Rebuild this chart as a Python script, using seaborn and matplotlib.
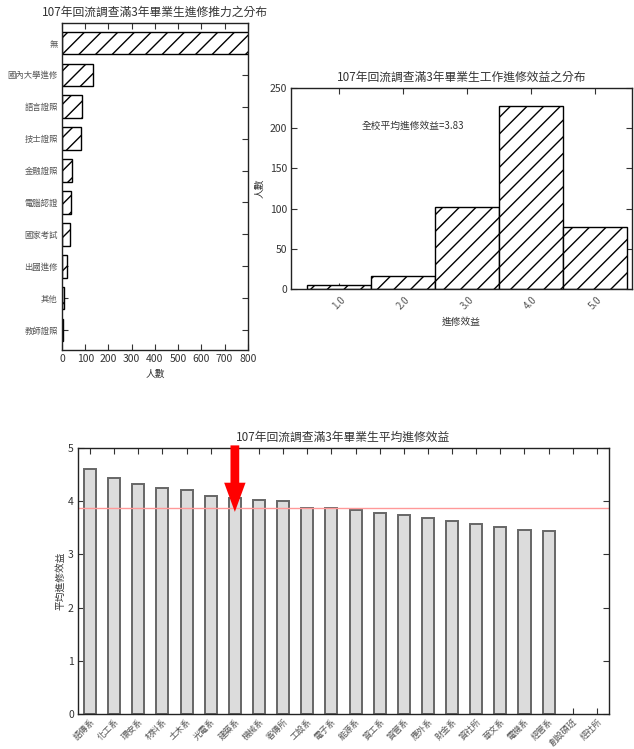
import numpy as np
import pandas as pd
import matplotlib
matplotlib.use("Agg")
import matplotlib.pyplot as plt
import seaborn as sns

# ---- data ----
push_cats = ["無", "國內大學進修", "語言證照", "技士證照", "金融證照",
             "電腦認證", "國家考試", "出國進修", "其他", "教師證照"]
push_vals = [810, 132, 86, 83, 43, 39, 36, 20, 10, 6]

benefit_cats = ["1.0", "2.0", "3.0", "4.0", "5.0"]
benefit_vals = [5, 16, 102, 227, 77]
school_mean_text = "全校平均進修效益=3.83"

dept_cats = ["語傳系", "化工系", "環安系", "材料系", "土木系", "光電系", "建築系",
             "機械系", "客傳所", "工設系", "電子系", "能源系", "資工系", "資管系",
             "應外系", "財金系", "資社所", "華文系", "電機系", "經管系",
             "創設碩班", "經社所"]
dept_vals = [4.60, 4.43, 4.32, 4.25, 4.22, 4.10, 4.06, 4.03, 4.00, 3.88,
             3.87, 3.84, 3.77, 3.74, 3.68, 3.62, 3.58, 3.52, 3.46, 3.44]
dept_mean = 3.87
highlight_dept = "建築系"

# ---- style ----
sns.set_theme(style="white")
plt.rcParams["font.family"] = ["Noto Sans CJK TC", "DejaVu Sans"]
plt.rcParams.update({
    "xtick.direction": "in", "ytick.direction": "in",
    "xtick.top": True, "ytick.right": True,
    "xtick.major.size": 4, "ytick.major.size": 4,
    "xtick.major.width": 0.8, "ytick.major.width": 0.8,
    "xtick.bottom": True, "ytick.left": True,
    "axes.edgecolor": "#222222", "axes.linewidth": 1.0,
    "text.color": "#333333", "axes.labelcolor": "#333333",
    "xtick.color": "#333333", "ytick.color": "#333333",
    "hatch.linewidth": 1.0,
})
TXT = "#333333"
LBL = "#555555"

fig = plt.figure(figsize=(6.34, 7.49), dpi=100)

# ---- top-left: horizontal bars ----
ax1 = fig.add_axes([0.0978, 0.5327, 0.293, 0.4366])
df1 = pd.DataFrame({"cat": push_cats, "val": push_vals})
sns.barplot(data=df1, x="val", y="cat", order=push_cats, orient="h", width=0.7,
            color="white", saturation=1, edgecolor="black", linewidth=1.0, ax=ax1)
for p in ax1.patches:
    p.set_hatch("//")
ax1.set_xlim(0, 800)
ax1.set_ylim(9.62, -0.62)
ax1.set_xticks(range(0, 801, 100))
ax1.tick_params(axis="x", labelsize=7.5, colors=TXT, pad=3)
ax1.tick_params(axis="y", labelsize=6, colors=TXT, labelcolor=LBL, pad=3)
ax1.set_xlabel("人數", fontsize=7, color=TXT, labelpad=3)
ax1.set_ylabel("")
ax1.set_title("107年回流調查滿3年畢業生進修推力之分布", fontsize=8.5, color=TXT, pad=5)

# ---- top-right: histogram-like bars ----
ax2 = fig.add_axes([0.459, 0.6142, 0.538, 0.2684])
df2 = pd.DataFrame({"cat": benefit_cats, "val": benefit_vals})
sns.barplot(data=df2, x="cat", y="val", order=benefit_cats, width=1.0,
            color="white", saturation=1, edgecolor="black", linewidth=1.0, ax=ax2)
for p in ax2.patches:
    p.set_hatch("//")
ax2.set_xlim(-0.75, 4.58)
ax2.set_ylim(0, 250)
ax2.set_yticks(range(0, 251, 50))
ax2.tick_params(axis="x", labelsize=7, colors=TXT, labelcolor=LBL, labelrotation=45, pad=4)
ax2.tick_params(axis="y", labelsize=7.5, colors=TXT, pad=3)
ax2.set_xlabel("進修效益", fontsize=7, color=TXT, labelpad=4)
ax2.set_ylabel("人數", fontsize=7, color=TXT, labelpad=4)
ax2.set_title("107年回流調查滿3年畢業生工作進修效益之分布", fontsize=8.5, color=TXT, pad=5)
ax2.text(0.36, 203, school_mean_text, fontsize=7, color=TXT, ha="left", va="center")

# ---- bottom: department means ----
ax3 = fig.add_axes([0.123, 0.0467, 0.8375, 0.3551])
df3 = pd.DataFrame({"dept": dept_cats[:len(dept_vals)], "val": dept_vals})
sns.barplot(data=df3, x="dept", y="val", order=dept_cats, width=0.5,
            color="#dcdcdc", saturation=1, edgecolor="#666666", linewidth=1.4, ax=ax3)
ax3.set_xlim(-0.5, len(dept_cats) - 0.5)
ax3.set_ylim(0, 5)
ax3.set_yticks(range(0, 6))
ax3.axhline(dept_mean, color="#ff9999", linewidth=1.0)
ax3.set_xticks(range(len(dept_cats)))
ax3.set_xticklabels(dept_cats, rotation=45, ha="right", rotation_mode="anchor")
ax3.tick_params(axis="x", labelsize=6.2, colors=TXT, labelcolor=LBL, pad=2)
ax3.tick_params(axis="y", labelsize=7.5, colors=TXT, pad=3)
ax3.set_xlabel("")
ax3.set_ylabel("平均進修效益", fontsize=7, color=TXT, labelpad=2)
ax3.set_title("107年回流調查滿3年畢業生平均進修效益", fontsize=8.5, color=TXT, pad=5)

hx = dept_cats.index(highlight_dept)
ax3.annotate("", xy=(hx, 3.80), xytext=(hx, 5.05), annotation_clip=False,
             arrowprops=dict(arrowstyle="simple,head_length=1.5,head_width=1.1,tail_width=0.45",
                             color="red", lw=0, shrinkA=0, shrinkB=0,
                             mutation_scale=14))

fig.savefig("out.png", dpi=100)
